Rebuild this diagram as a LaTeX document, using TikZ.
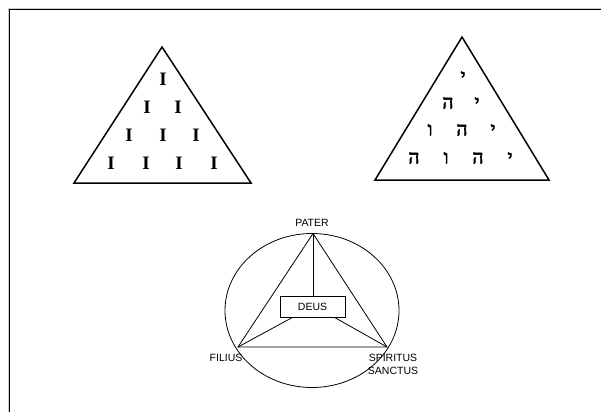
\documentclass[tikz,border=0pt]{standalone}
\usepackage{fontspec}
\setmainfont{Liberation Serif}
\setsansfont{Liberation Sans}
\newfontfamily\hebfont[Script=Hebrew, FakeBold=3]{Liberation Serif}
\begin{document}
\begin{tikzpicture}[x=1pt,y=-1pt,
  tri/.style={draw, line width=1.5pt, line join=miter},
  iletter/.style={font=\fontsize{19}{19}\selectfont\bfseries, inner sep=0pt},
  hletter/.style={font=\fontsize{19}{19}\selectfont\hebfont, inner sep=0pt},
  lbl/.style={font=\sffamily\fontsize{10.5}{12.5}\selectfont, inner sep=0pt, align=center},
  thin/.style={draw, line width=0.8pt}]
\useasboundingbox (0,0) rectangle (601,412);
\fill[white] (0,0) rectangle (601,412);
% frame
\draw[line width=1.5pt] (9.5,412) -- (9.5,9.5) -- (601,9.5);
\draw[gray!40, line width=0.6pt] (8,412) -- (8,8) -- (601,8);
% left triangle
\coordinate (LA) at (162,47);
\coordinate (LB) at (74,183);
\coordinate (LC) at (251,183);
\draw[tri] (LA) -- (LB) -- (LC) -- cycle;
\node[iletter] (i1) at (163,79) {I};
\node[iletter] (i2) at (147,107) {I};
\node[iletter] (i3) at (178,107) {I};
\node[iletter] (i4) at (129,135) {I};
\node[iletter] (i5) at (163,135) {I};
\node[iletter] (i6) at (196,135) {I};
\node[iletter] (i7) at (111,163) {I};
\node[iletter] (i8) at (146,163) {I};
\node[iletter] (i9) at (179,163) {I};
\node[iletter] (i10) at (214,163) {I};
% right triangle
\coordinate (RA) at (462,37);
\coordinate (RB) at (375,180);
\coordinate (RC) at (549,180);
\draw[tri] (RA) -- (RB) -- (RC) -- cycle;
\node[hletter] (h1) at (463,77) {י};
\node[hletter] (h2) at (448,103) {ה};
\node[hletter] (h3) at (477,103) {י};
\node[hletter] (h4) at (430,130) {ו};
\node[hletter] (h5) at (462,130) {ה};
\node[hletter] (h6) at (493,130) {י};
\node[hletter] (h7) at (414,158) {ה};
\node[hletter] (h8) at (446,158) {ו};
\node[hletter] (h9) at (478,158) {ה};
\node[hletter] (h10) at (510,158) {י};
% bottom diagram
\draw[thin] (312,310.5) ellipse [x radius=87, y radius=77];
\coordinate (P) at (313,233.5);
\coordinate (F) at (238,347);
\coordinate (S) at (387,347);
\node[thin, minimum width=65pt, minimum height=21pt, inner sep=0pt, font=\sffamily\fontsize{10.5}{12}\selectfont] (deus) at (312.5,306.5) {DEUS};
\draw[thin] (P) -- (F) -- (S) -- cycle;
\draw[thin] (P) -- (deus.north -| P);
\draw[thin] (F) -- ([xshift=-20pt]deus.south);
\draw[thin] (S) -- ([xshift=22pt]deus.south);
\node[lbl] (pater) at (312,223) {PATER};
\node[lbl] (filius) at (226,358) {FILIUS};
\node[lbl] (spiritus) at (393,364.5) {SPIRITUS\\SANCTUS};
\end{tikzpicture}
\end{document}
